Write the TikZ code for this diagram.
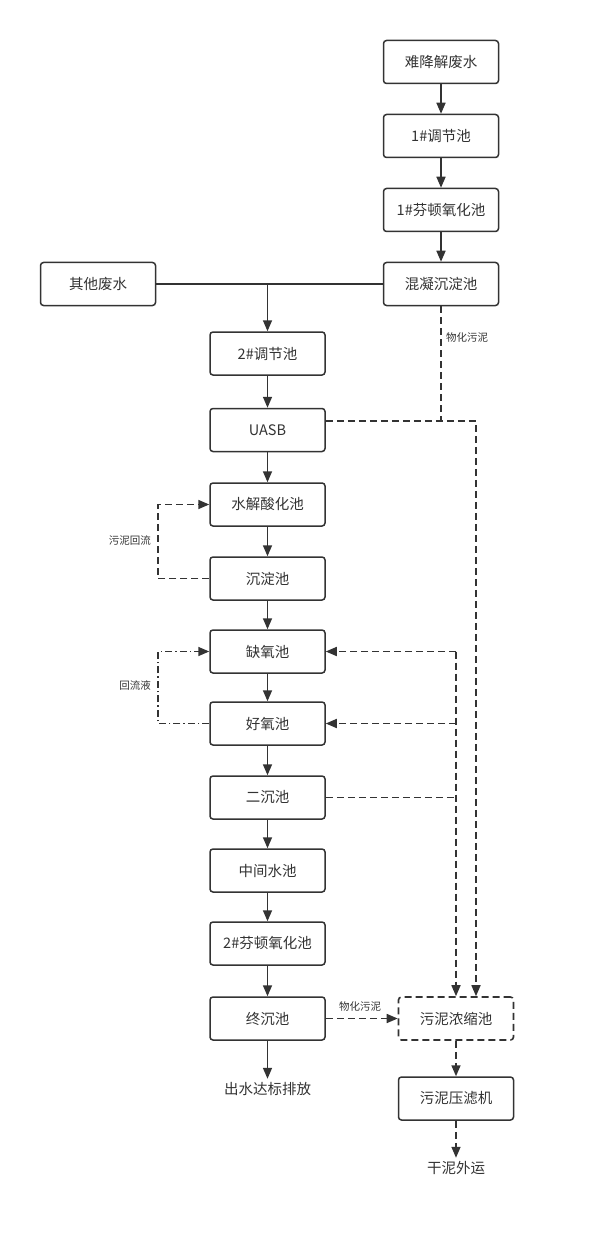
\documentclass[tikz,border=0pt]{standalone}
\usepackage{fontspec}
\setmainfont{Noto Sans CJK SC}
\usetikzlibrary{arrows.meta}
\definecolor{ink}{HTML}{333333}
\begin{document}
\begin{tikzpicture}[x=1pt,y=-1pt,
  box/.style={draw=ink,line width=1.5pt,rounded corners=3pt,minimum width=115pt,minimum height=43pt,text=ink,font=\fontsize{14.5}{16}\selectfont},
  lbl/.style={text=ink,font=\fontsize{10.5}{12}\selectfont,inner sep=1pt},
  txt/.style={text=ink,font=\fontsize{14.5}{16}\selectfont},
  tip/.style={-{Triangle[length=11pt,width=9pt]}},
  flow/.style={draw=ink,line width=1.6pt,tip},
  line/.style={draw=ink,line width=1.6pt},
  sludge/.style={draw=ink,line width=1.6pt,dash pattern=on 7pt off 4pt},
  reflux/.style={draw=ink,line width=1.6pt,dash pattern=on 7pt off 3pt on 1.5pt off 3pt}]
\useasboundingbox (0,0) rectangle (589,1238);

% right column
\node[box] (src) at (441,62) {难降解废水};
\node[box] (adj1) at (441,136) {1\#调节池};
\node[box] (fen1) at (441,210) {1\#芬顿氧化池};
\node[box] (coag) at (441,284) {混凝沉淀池};
\node[box] (other) at (98,284) {其他废水};

% main line
\node[box] (adj2) at (267.5,353.5) {2\#调节池};
\node[box] (uasb) at (267.5,430) {UASB};
\node[box] (hydro) at (267.5,504.5) {水解酸化池};
\node[box] (sed) at (267.5,578.5) {沉淀池};
\node[box] (anox) at (267.5,651.5) {缺氧池};
\node[box] (aer) at (267.5,723.5) {好氧池};
\node[box] (sec) at (267.5,797.5) {二沉池};
\node[box] (mid) at (267.5,870.5) {中间水池};
\node[box] (fen2) at (267.5,943.5) {2\#芬顿氧化池};
\node[box] (fin) at (267.5,1018.5) {终沉池};
\node[txt] (out) at (267.5,1089) {出水达标排放};

% sludge line
\node[box,sludge] (thick) at (456,1018.5) {污泥浓缩池};
\node[box] (press) at (456,1098.5) {污泥压滤机};
\node[txt] (dry) at (456,1168) {干泥外运};

\coordinate (j) at (267.5,284);
\coordinate (k1) at (441,421);
\coordinate (k2) at (476,421);
\coordinate (r1) at (456,651.5);
\coordinate (r2) at (456,723.5);
\coordinate (r3) at (456,797.5);
\coordinate (lft) at (158,0);

\draw[flow] (src) -- (adj1);
\draw[flow] (adj1) -- (fen1);
\draw[flow] (fen1) -- (coag);
\draw[line] (other.east) -- (coag.west);
\draw[flow] (j) -- (adj2.north);
\draw[flow] (adj2) -- (uasb);
\draw[flow] (uasb) -- (hydro);
\draw[flow] (hydro) -- (sed);
\draw[flow] (sed) -- (anox);
\draw[flow] (anox) -- (aer);
\draw[flow] (aer) -- (sec);
\draw[flow] (sec) -- (mid);
\draw[flow] (mid) -- (fen2);
\draw[flow] (fen2) -- (fin);
\draw[flow] (fin) -- (out);

% sludge
\draw[sludge] (coag.south) -- (k1);
\draw[sludge,tip] ([yshift=9pt]uasb.east) -- (k2) -- (k2 |- thick.north);
\draw[sludge,tip] (r1) -- (thick.north);
\draw[sludge,tip] (r1) -- (anox.east);
\draw[sludge,tip] (r2) -- (aer.east);
\draw[sludge] (sec.east) -- (r3);
\draw[sludge,tip] (fin) -- (thick);
\draw[sludge,tip] (thick) -- (press);
\draw[sludge,tip] (press) -- (dry);
\draw[sludge,tip] (sed.west) -- (sed.west -| lft) -- (hydro.west -| lft) -- (hydro.west);
\draw[reflux,tip] (aer.west) -- (aer.west -| lft) -- (anox.west -| lft) -- (anox.west);

\node[lbl,anchor=west] (l1) at (445,338) {物化污泥};
\node[lbl] (l2) at (360,1007) {物化污泥};
\node[lbl,anchor=east] (l3) at (152,541) {污泥回流};
\node[lbl,anchor=east] (l4) at (152,685) {回流液};
\end{tikzpicture}
\end{document}
